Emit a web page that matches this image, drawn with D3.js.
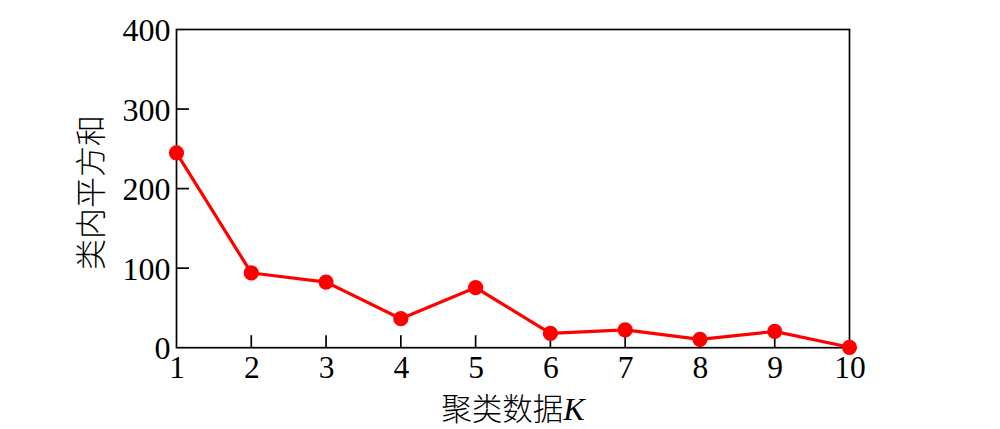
<!DOCTYPE html>
<html><head><meta charset="utf-8">
<script src="https://cdn.jsdelivr.net/npm/d3@7"></script>
<style>
html,body{margin:0;padding:0;background:#fff;}
svg{display:block;}
</style></head>
<body>
<svg id="chart" width="1000" height="429"></svg>
<script>
const kValues = [1,2,3,4,5,6,7,8,9,10];
const wcss = [245, 94, 82.5, 36.5, 75.5, 18, 22.5, 10.5, 20.5, 0.5];
const yTicks = [0,100,200,300,400];
const xLabel = "聚类数据";
const xLabelVar = "K";
const yLabel = "类内平方和";

const svg = d3.select("#chart");
const m = {left:176.5, right:849.5, top:29.5, bottom:347.7};
const x = d3.scaleLinear().domain([1,10]).range([m.left, m.right]);
const y = d3.scaleLinear().domain([0,400]).range([m.bottom, m.top]);
const serif = "'Liberation Serif','Times New Roman',serif";

svg.append("rect").attr("x",m.left).attr("y",m.top).attr("width",m.right-m.left).attr("height",m.bottom-m.top)
  .attr("fill","none").attr("stroke","#000").attr("stroke-width",1.7);

// x axis
const xAxis = d3.axisBottom(x).tickValues(kValues).tickSize(0).tickPadding(8).tickFormat(d3.format("d"));
const xg = svg.append("g").attr("transform",`translate(0,${m.bottom})`).call(xAxis);
xg.select(".domain").remove();
xg.selectAll("text").attr("font-family",serif).attr("font-size",31.5).attr("fill","#000").attr("dy","0.71em");
svg.append("g").selectAll("line").data(kValues.filter(d=>d>1&&d<10)).join("line")
  .attr("x1",d=>x(d)).attr("x2",d=>x(d)).attr("y1",m.bottom).attr("y2",m.bottom-12.5)
  .attr("stroke","#000").attr("stroke-width",1.7);

// y axis
const yAxis = d3.axisLeft(y).tickValues(yTicks).tickSize(0).tickPadding(6);
const yg = svg.append("g").attr("transform",`translate(${m.left},0)`).call(yAxis);
yg.select(".domain").remove();
yg.selectAll("text").attr("font-family",serif).attr("font-size",32).attr("fill","#000").attr("dy","0.35em");
svg.append("g").selectAll("line").data(yTicks.filter(d=>d>0&&d<400)).join("line")
  .attr("x1",m.left).attr("x2",m.left+12.5).attr("y1",d=>y(d)).attr("y2",d=>y(d))
  .attr("stroke","#000").attr("stroke-width",1.7);

// line + markers
const data = kValues.map((k,i)=>({k, v:wcss[i]}));
svg.append("path").datum(data)
  .attr("d", d3.line().x(d=>x(d.k)).y(d=>y(d.v)))
  .attr("fill","none").attr("stroke","#ff0000").attr("stroke-width",3.2);
svg.append("g").selectAll("circle").data(data).join("circle")
  .attr("cx",d=>x(d.k)).attr("cy",d=>y(d.v)).attr("r",7.6).attr("fill","#ff0000");

// x label
const xt = svg.append("text").attr("x",(m.left+m.right)/2).attr("y",420)
  .attr("text-anchor","middle").attr("font-size",30.5).attr("fill","#000");
xt.append("tspan").attr("font-family","'Noto Sans CJK SC',sans-serif").attr("font-weight",300).text(xLabel);
xt.append("tspan").attr("font-family",serif).attr("font-style","italic").attr("font-size",32).text(xLabelVar);

// y label
svg.append("text").attr("transform",`translate(102,${(m.top+m.bottom)/2+4}) rotate(-90)`)
  .attr("text-anchor","middle").attr("font-family","'Noto Sans CJK SC',sans-serif").attr("font-weight",300)
  .attr("font-size",31).attr("fill","#000").text(yLabel);
</script>
</body></html>
